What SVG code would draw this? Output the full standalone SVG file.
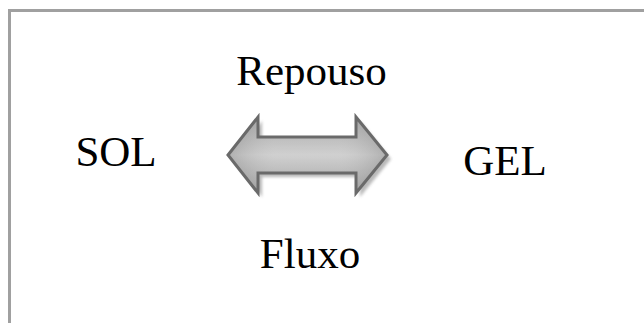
<svg xmlns="http://www.w3.org/2000/svg" width="644" height="323" viewBox="0 0 644 323">
  <style>
    .lbl { font-family: "Liberation Serif", "Times New Roman", serif; font-size: 43px; fill: #000; text-anchor: middle; }
  </style>
  <defs>
    <linearGradient id="arrowFill" x1="0" y1="0" x2="0" y2="1">
      <stop offset="0" stop-color="#989898"/>
      <stop offset="0.5" stop-color="#c8c8c8"/>
      <stop offset="1" stop-color="#949494"/>
    </linearGradient>
    <linearGradient id="arrowSides" x1="0" y1="0" x2="1" y2="0">
      <stop offset="0" stop-color="#808080" stop-opacity="0.35"/>
      <stop offset="0.3" stop-color="#ffffff" stop-opacity="0.15"/>
      <stop offset="0.7" stop-color="#ffffff" stop-opacity="0.15"/>
      <stop offset="1" stop-color="#808080" stop-opacity="0.35"/>
    </linearGradient>
    <filter id="soft" x="-10%" y="-20%" width="130%" height="150%">
      <feGaussianBlur stdDeviation="1.5"/>
    </filter>
    <path id="dblArrow" d="M228,155 L258,117 L258,137 L356,137 L356,117 L387,155 L356,193 L356,173 L258,173 L258,193 Z"/>
  </defs>

  <!-- frame -->
  <rect x="9.5" y="10.5" width="660" height="340" fill="#fff" stroke="#a0a0a0" stroke-width="3"/>

  <!-- connector: double arrow between states -->
  <g id="connectors">
    <use href="#dblArrow" transform="translate(4,4)" fill="#8a8a8a" opacity="0.6" filter="url(#soft)"/>
    <use href="#dblArrow" fill="url(#arrowFill)"/>
    <use href="#dblArrow" fill="url(#arrowSides)" stroke="#6a6a6a" stroke-width="3" stroke-linejoin="miter"/>
  </g>

  <g id="sol"><text class="lbl" x="116" y="166">SOL</text></g>
  <g id="gel"><text class="lbl" x="505" y="175">GEL</text></g>
  <g id="repouso"><text class="lbl" x="311.5" y="85">Repouso</text></g>
  <g id="fluxo"><text class="lbl" x="310" y="268">Fluxo</text></g>
</svg>
